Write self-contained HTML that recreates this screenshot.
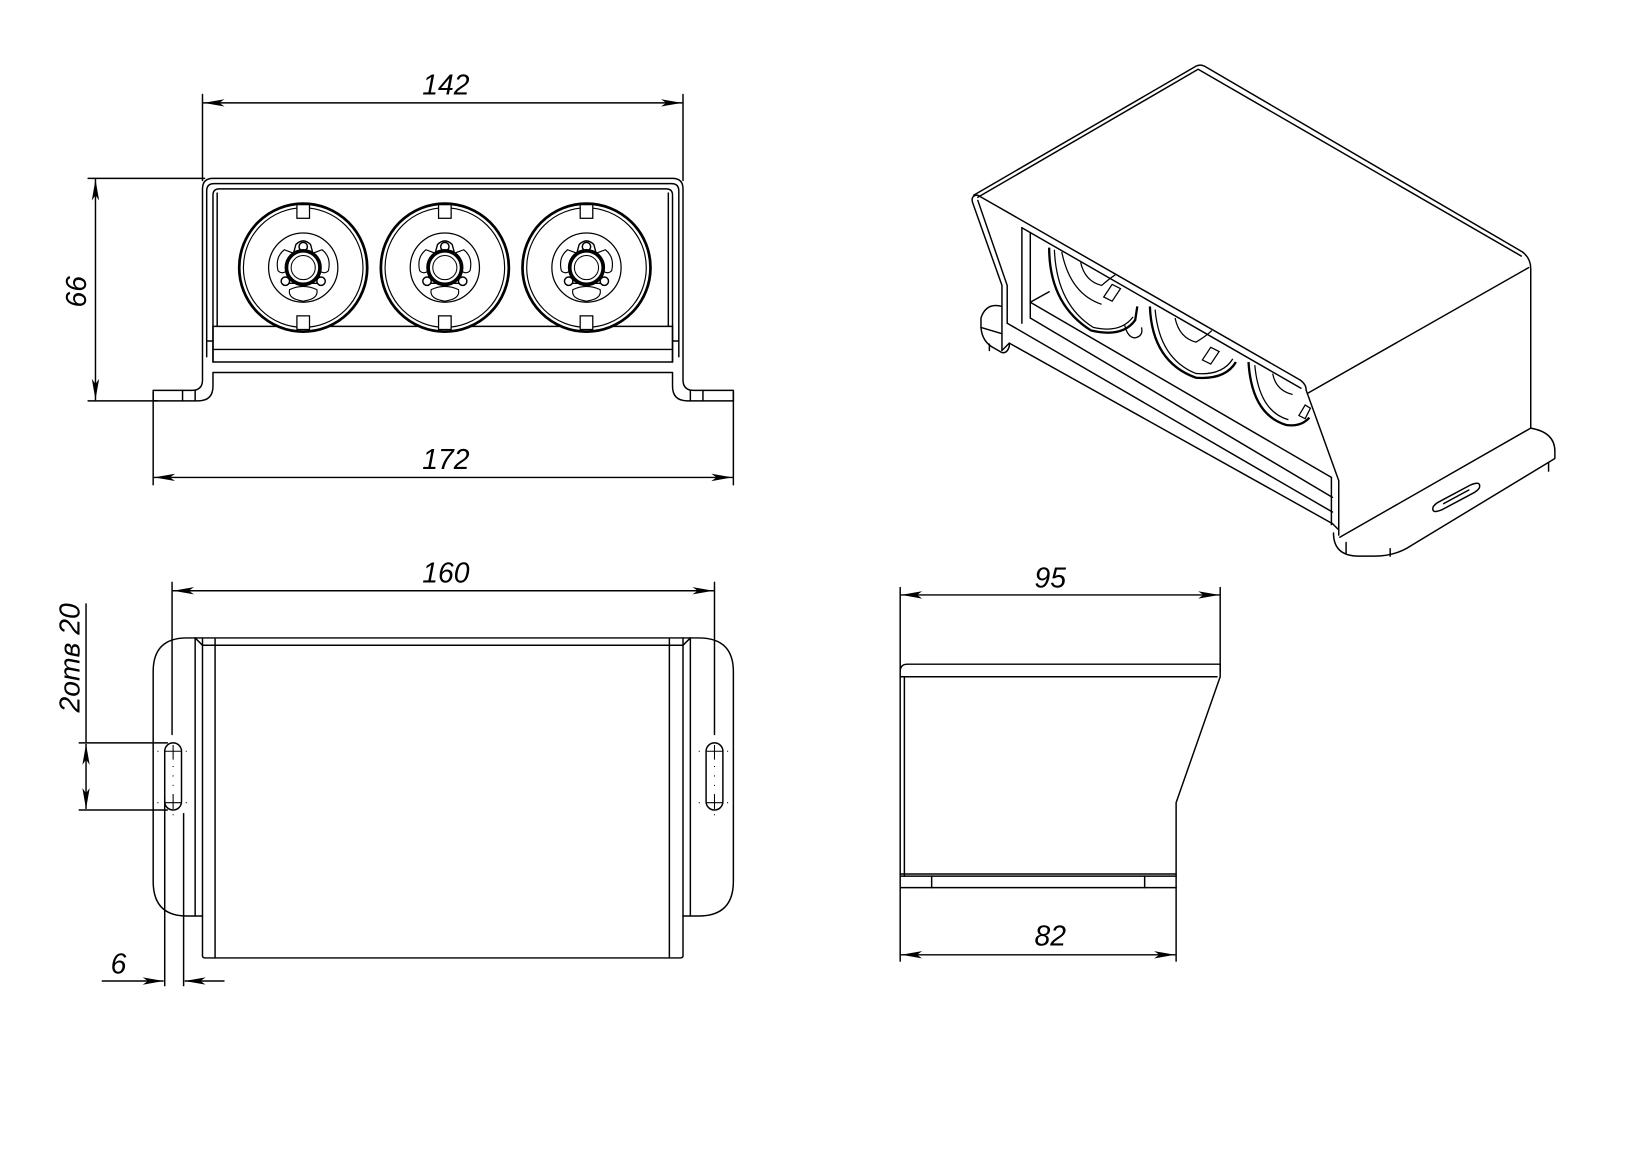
<!DOCTYPE html>
<html><head><meta charset="utf-8"><style>
html,body{margin:0;padding:0;background:#fff}
svg{display:block}
text{font-family:"Liberation Sans",sans-serif;font-style:italic;font-size:27px;fill:#000}
</style></head><body>
<svg width="1643" height="1150" viewBox="0 0 1566 1096" xmlns="http://www.w3.org/2000/svg">
<defs>
<marker id="a" viewBox="0 0 20 8" refX="20" refY="4" markerWidth="20" markerHeight="8" markerUnits="userSpaceOnUse" orient="auto-start-reverse">
<path d="M0,0.5 L20,4 L0,7.5 L5,4 Z" fill="#000"/>
</marker>
</defs>
<g fill="none" stroke="#000" stroke-width="1.4" stroke-linejoin="round" stroke-linecap="round">

<!-- ============ FRONT VIEW ============ -->
<line x1="193" y1="90" x2="193" y2="172"/>
<line x1="651" y1="90" x2="651" y2="172"/>
<line x1="194" y1="98" x2="650" y2="98" marker-start="url(#a)" marker-end="url(#a)"/>
<line x1="84" y1="170" x2="195" y2="170"/>
<line x1="84" y1="382" x2="150" y2="382"/>
<line x1="91" y1="171" x2="91" y2="381" marker-start="url(#a)" marker-end="url(#a)"/>
<line x1="146" y1="374" x2="146" y2="462"/>
<line x1="699" y1="374" x2="699" y2="462"/>
<line x1="147" y1="455" x2="698" y2="455" marker-start="url(#a)" marker-end="url(#a)"/>

<path d="M146,372 L183,372 Q193,372 193,362 L193,180 Q193,170 203,170 L641,170 Q651,170 651,180 L651,362 Q651,372 661,372 L699,372 L699,382 L655,382 Q641,382 641,368 L641,355 L203,355 L203,368 Q203,382 189,382 L146,382 Z"/>
<line x1="174" y1="372" x2="174" y2="382"/>
<line x1="186" y1="372" x2="186" y2="382"/>
<line x1="658" y1="372" x2="658" y2="382"/>
<line x1="670" y1="372" x2="670" y2="382"/>
<path d="M197,340 L197,182 Q197,175 204,175 L640,175 Q647,175 647,182 L647,340"/>
<path d="M203,345 L203,186 Q203,180 209,180 L635,180 Q641,180 641,186 L641,345"/>
<line x1="207" y1="184" x2="207" y2="311"/>
<line x1="637" y1="184" x2="637" y2="311"/>
<line x1="197" y1="325" x2="203" y2="325"/>
<line x1="641" y1="325" x2="647" y2="325"/>
<line x1="203" y1="311" x2="641" y2="311"/>
<line x1="203" y1="333" x2="641" y2="333"/>
<line x1="203" y1="345" x2="641" y2="345"/>
<line x1="203" y1="311" x2="203" y2="345"/>
<line x1="641" y1="311" x2="641" y2="345"/>
</g>

<g fill="none" stroke="#000">
<g id="sp">
<circle cx="289" cy="255" r="61" stroke-width="2.6" fill="#fff"/>
<circle cx="289" cy="255" r="57" stroke-width="1.1"/>
<rect x="283" y="195" width="12" height="13" stroke-width="1.2" fill="#fff"/>
<rect x="283" y="301" width="12" height="13" stroke-width="1.2" fill="#fff"/>
<circle cx="289" cy="255" r="33" stroke-width="1.2"/>
<path d="M271,238 Q262,245 265,258 Q270,263 276,255 Q274,246 279,241 Z" stroke-width="1.1"/>
<path d="M307,238 Q316,245 313,258 Q308,263 302,255 Q304,246 299,241 Z" stroke-width="1.1"/>
<path d="M276,276 Q289,270 302,276 Q304,285 289,287 Q274,285 276,276 Z" stroke-width="1.1"/>
<path d="M282,233 Q289,226 296,233 L306,270 L272,270 Z" stroke-width="1.3" fill="#fff"/>
<circle cx="289" cy="235" r="4" stroke-width="1.4" fill="#fff"/>
<circle cx="272" cy="268" r="4" stroke-width="1.4" fill="#fff"/>
<circle cx="306" cy="268" r="4" stroke-width="1.4" fill="#fff"/>
<circle cx="289" cy="255" r="16" stroke-width="3.5" fill="#fff"/>
<circle cx="289" cy="255" r="11.5" stroke-width="1" fill="#fff"/>
</g>
<use href="#sp" x="135"/>
<use href="#sp" x="270"/>
</g>

<!-- ============ ISO VIEW ============ -->
<g fill="none" stroke="#000" stroke-width="1.4" stroke-linejoin="round" stroke-linecap="round">
<path d="M928,186 L1140,63 Q1144,61 1148,63 L1451,240 Q1459,246 1459,256 L1459,408"/>
<path d="M932,188 L1142,66 L1450,244"/>
<line x1="932" y1="186" x2="1239" y2="362"/>
<line x1="1457" y1="255" x2="1246" y2="375"/>
<path d="M1239,362 Q1245,366 1245,372"/>
<path d="M932,186 Q925,186 927,193 L955,272 L955,334"/>
<path d="M932,191 L960,272 L960,308"/>
<line x1="974" y1="217" x2="974" y2="308"/>
<line x1="982" y1="222" x2="982" y2="303"/>
<line x1="974" y1="217" x2="1240" y2="370"/>
<!-- left foot -->
<path d="M955,292 Q940,288 935,303 L935,312 Q936,326 948,332 L955,336 Q960,337 962,330 L962,327"/>
<line x1="935" y1="312" x2="955" y2="318"/>
<line x1="943" y1="328" x2="943" y2="334"/>
<line x1="955" y1="334" x2="962" y2="327"/>
<line x1="962" y1="327" x2="1270" y2="499"/>
<line x1="960" y1="308" x2="1270" y2="488"/>
<line x1="982" y1="303" x2="1270" y2="474"/>
<line x1="982" y1="288" x2="1000" y2="278"/>
<line x1="982" y1="288" x2="1269" y2="455"/>
<path d="M1245,372 L1276,458 L1276,510"/>
<line x1="1269" y1="455" x2="1269" y2="500"/>
<line x1="1270" y1="499" x2="1276" y2="505"/>
<!-- right foot -->
<line x1="1459" y1="408" x2="1277" y2="512"/>
<path d="M1459,408 Q1482,412 1482,430 L1482,437 L1345,520 Q1330,530 1310,530 L1295,530 Q1271,530 1271,508"/>
<line x1="1476" y1="441" x2="1476" y2="449"/>
<line x1="1283" y1="517" x2="1283" y2="527"/>
<line x1="1325" y1="523" x2="1325" y2="530"/>
<path d="M1372,478 L1402,462 Q1412,458 1410,465 Q1408,468 1404,470 L1374,486 Q1364,490 1366,483 Q1368,480 1372,478 Z"/>
<path d="M1376,480 L1400,467"/>
</g>
<g fill="none" stroke="#000" stroke-width="1.2">
<path d="M1000,236 Q1000,290 1040,315 Q1070,322 1082,305 L1084,292" stroke-width="2.2"/>
<path d="M1005,238 Q1007,290 1042,312 Q1068,318 1080,302"/>
<path d="M1012,240 Q1020,280 1050,290"/>
<path d="M1030,250 Q1034,268 1050,272 Q1058,265 1063,262"/>
<path d="M1052,283 l8,-12 l8,4 l-8,12 Z"/>
<path d="M1072,310 Q1075,322 1082,322 Q1090,320 1088,312"/>
<path d="M1096,292 Q1098,345 1140,360 Q1168,362 1178,345" stroke-width="2.2"/>
<path d="M1101,295 Q1105,342 1140,356 Q1165,358 1175,342"/>
<path d="M1120,303 Q1124,322 1140,326 Q1150,320 1155,315"/>
<path d="M1146,343 l8,-12 l8,4 l-8,12 Z"/>
<path d="M1190,345 Q1193,395 1226,405 Q1240,407 1248,398" stroke-width="2.2"/>
<path d="M1196,348 Q1200,392 1228,400"/>
<path d="M1213,356 Q1216,372 1232,376"/>
<path d="M1238,396 l6,-10 l5,3 l-5,10 Z"/>
</g>

<!-- ============ BOTTOM VIEW ============ -->
<g fill="none" stroke="#000" stroke-width="1.4" stroke-linejoin="round" stroke-linecap="round">
<line x1="164" y1="555" x2="164" y2="700"/>
<line x1="681" y1="555" x2="681" y2="700"/>
<line x1="165" y1="563" x2="680" y2="563" marker-start="url(#a)" marker-end="url(#a)"/>
<path d="M193,608 L178,608 Q146,608 146,640 L146,840 Q146,873 178,873 L193,873"/>
<path d="M651,608 L666,608 Q699,608 699,640 L699,840 Q699,873 666,873 L651,873"/>
<path d="M193,608 L651,608 L651,911 Q651,913 648,913 L196,913 Q193,913 193,911 Z"/>
<line x1="193" y1="615" x2="651" y2="615"/>
<line x1="205" y1="609" x2="205" y2="913"/>
<line x1="638" y1="609" x2="638" y2="913"/>
<path d="M186,608 L193,615 M658,608 L651,615"/>
<line x1="186" y1="608" x2="186" y2="873"/>
<line x1="658" y1="608" x2="658" y2="873"/>
<rect x="157" y="708" width="16" height="64" rx="8"/>
<rect x="673" y="708" width="16" height="64" rx="8"/>
</g>
<g stroke="#000" stroke-width="1" fill="none">
<path d="M157,716 h16 M165,710 v14 M157,765 h16 M165,757 v14 M673,716 h16 M681,710 v14 M673,765 h16 M681,757 v14"/>
<path d="M165,730 v30 M681,730 v30 M150,716 h4 M177,716 h4 M150,765 h4 M177,765 h4 M666,716 h4 M693,716 h4 M666,765 h4 M693,765 h4 M165,776 v4 M681,776 v4" stroke-dasharray="1,8"/>
</g>
<g fill="none" stroke="#000" stroke-width="1.4">
<line x1="75" y1="708" x2="160" y2="708"/>
<line x1="75" y1="772" x2="160" y2="772"/>
<line x1="82" y1="709" x2="82" y2="771" marker-start="url(#a)" marker-end="url(#a)"/>
<line x1="82" y1="575" x2="82" y2="708"/>
<line x1="157" y1="760" x2="157" y2="940"/>
<line x1="175" y1="775" x2="175" y2="940"/>
<line x1="97" y1="935" x2="156" y2="935" marker-end="url(#a)"/>
<line x1="214" y1="935" x2="176" y2="935" marker-end="url(#a)"/>
</g>

<!-- ============ SIDE VIEW ============ -->
<g fill="none" stroke="#000" stroke-width="1.4" stroke-linejoin="round" stroke-linecap="round">
<line x1="858" y1="560" x2="858" y2="640"/>
<line x1="1163" y1="560" x2="1163" y2="640"/>
<line x1="859" y1="567" x2="1162" y2="567" marker-start="url(#a)" marker-end="url(#a)"/>
<path d="M858,846 L858,640 Q858,633 865,633 L1163,633 L1163,645 L1121,765 L1121,846 Z"/>
<line x1="858" y1="645" x2="1160" y2="645"/>
<line x1="862" y1="645" x2="862" y2="835"/>
<line x1="858" y1="833" x2="1121" y2="833"/>
<line x1="858" y1="835" x2="1121" y2="835"/>
<line x1="888" y1="835" x2="888" y2="846"/>
<line x1="1091" y1="835" x2="1091" y2="846"/>
<line x1="858" y1="846" x2="858" y2="916"/>
<line x1="1121" y1="846" x2="1121" y2="916"/>
<line x1="859" y1="910" x2="1120" y2="910" marker-start="url(#a)" marker-end="url(#a)"/>
</g>

<text x="425" y="90" text-anchor="middle">142</text>
<text x="425" y="447" text-anchor="middle">172</text>
<text x="82" y="278" text-anchor="middle" transform="rotate(-90 82 278)">66</text>
<text x="425" y="555" text-anchor="middle">160</text>
<text x="1001" y="560" text-anchor="middle">95</text>
<text x="1001" y="901" text-anchor="middle">82</text>
<text x="113" y="928" text-anchor="middle">6</text>
<text x="76" y="627" text-anchor="middle" transform="rotate(-90 76 627)">2отв 20</text>
</svg>
</body></html>
